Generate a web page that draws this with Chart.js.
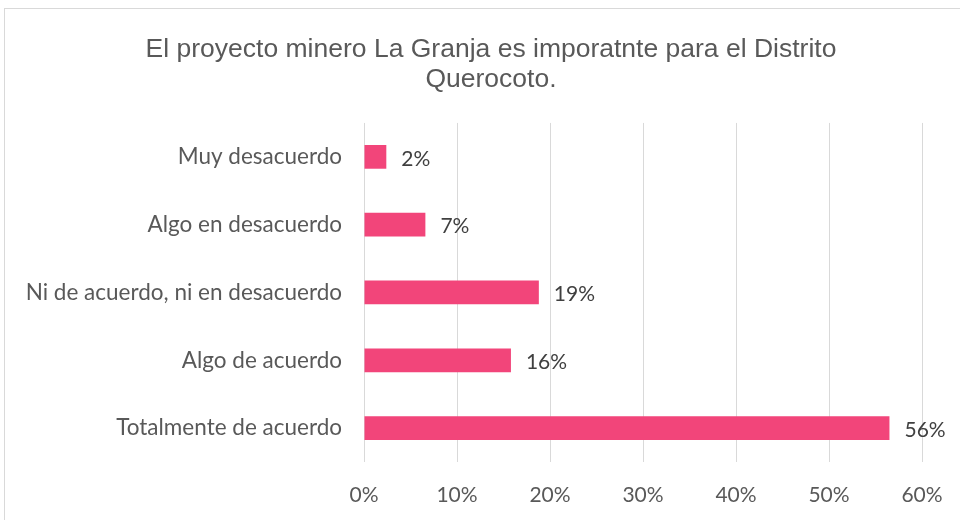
<!DOCTYPE html>
<html>
<head>
<meta charset="utf-8">
<script src="https://cdn.jsdelivr.net/npm/chart.js@4.4.0/dist/chart.umd.min.js"></script>
<style>
  html, body { margin: 0; padding: 0; background: #fff; overflow: hidden; }
  #wrap { position: relative; width: 960px; height: 520px; }
  #frame { position: absolute; left: 4px; top: 8px; width: 1000px; height: 600px; border: 1px solid #d9d9d9; }
  canvas { position: absolute; left: 0; top: 0; }
</style>
</head>
<body>
<div id="wrap">
  <div id="frame"></div>
  <canvas id="chart" width="960" height="520"></canvas>
</div>
<script>
// Data
const categories = [
    'Muy desacuerdo',
    'Algo en desacuerdo',
    'Ni de acuerdo, ni en desacuerdo',
    'Algo de acuerdo',
    'Totalmente de acuerdo'
];
const shares = [0.024, 0.066, 0.188, 0.158, 0.565];
const barLabels = ['2%', '7%', '19%', '16%', '56%'];
const xTicks = [0, 0.1, 0.2, 0.3, 0.4, 0.5, 0.6];

const titleLines = ['El proyecto minero La Granja es imporatnte para el Distrito', 'Querocoto.'];

// draws the value next to the end of each bar
const valueLabels = {
    id: 'valueLabels',
    afterDatasetsDraw(chart) {
        const ctx = chart.ctx;
        const meta = chart.getDatasetMeta(0);
        ctx.save();
        ctx.font = '21px Lato, "Open Sans", sans-serif';
        ctx.fillStyle = '#404040';
        ctx.textAlign = 'left';
        ctx.textBaseline = 'middle';
        meta.data.forEach((bar, i) => {
            ctx.fillText(barLabels[i], bar.x + 15, bar.y + 2);
        });
        ctx.restore();
    }
};

// the title in the reference sits centred on the whole frame, not the plot
const titleShift = {
    id: 'titleShift',
    afterLayout(chart) {
        const t = chart.titleBlock;
        if (t) {
            t.right = chart.width;
            t.width = t.right - t.left;
        }
    }
};

const ctx = document.getElementById('chart').getContext('2d');

new Chart(ctx, {
    type: 'bar',
    data: {
        labels: categories,
        datasets: [{
            data: shares,
            backgroundColor: '#F2457A',
            borderWidth: 0,
            categoryPercentage: 1,
            barPercentage: 0.35
        }]
    },
    options: {
        indexAxis: 'y',
        responsive: false,
        animation: false,
        layout: { padding: { left: 22, right: 38, top: 20, bottom: 15 } },
        plugins: {
            legend: { display: false },
            tooltip: { enabled: false },
            title: {
                display: true,
                text: titleLines,
                color: '#595959',
                font: { family: '"Liberation Sans", Arial, sans-serif', size: 26.5, weight: 'normal', lineHeight: 1.15 },
                padding: { top: 14, bottom: 28 }
            }
        },
        scales: {
            x: {
                min: 0,
                max: 0.6,
                afterBuildTicks: scale => { scale.ticks = xTicks.map(v => ({ value: v })); },
                afterFit: scale => { scale.height = 43; scale.paddingRight = 0; scale.paddingLeft = 0; },
                ticks: {
                    callback: v => Math.round(v * 100) + '%',
                    color: '#595959',
                    font: { family: 'Lato, "Open Sans", sans-serif', size: 21 },
                    padding: 21
                },
                grid: { color: '#d9d9d9', lineWidth: 1, drawTicks: false },
                border: { display: false }
            },
            y: {
                afterFit: scale => { scale.width = 342; },
                ticks: {
                    color: '#595959',
                    font: { family: 'Lato, "Open Sans", sans-serif', size: 22.5 },
                    padding: 22
                },
                grid: { display: false, drawTicks: false },
                border: { display: false }
            }
        }
    },
    plugins: [valueLabels, titleShift]
});
</script>
</body>
</html>
